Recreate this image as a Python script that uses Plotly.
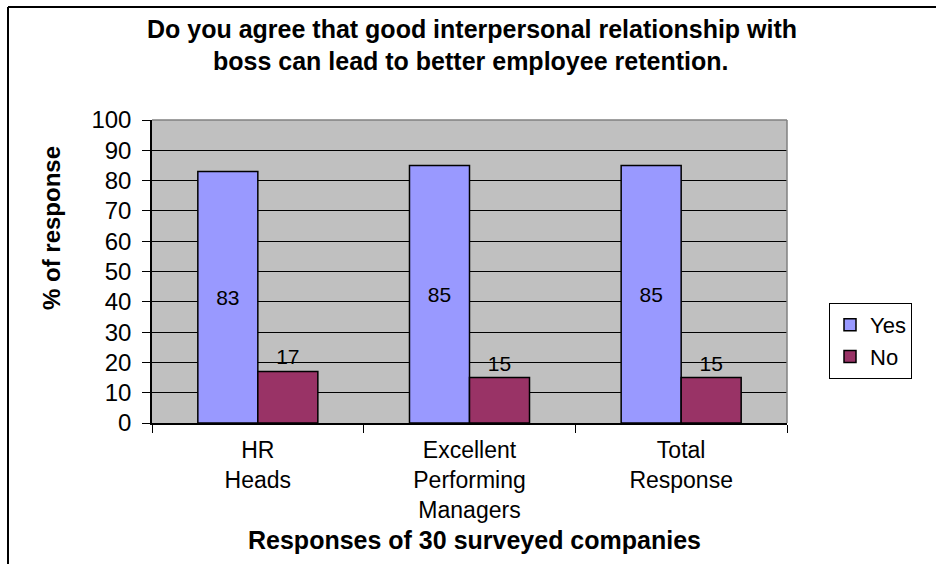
import plotly.graph_objects as go

# Survey results: share of respondents (%) per group
categories = ["HR<br>Heads", "Excellent<br>Performing<br>Managers", "Total<br>Response"]
yes_values = [83, 85, 85]
no_values = [17, 15, 15]
y_ticks = [0, 10, 20, 30, 40, 50, 60, 70, 80, 90, 100]

FONT = "Liberation Sans, Arial, sans-serif"
W, H = 936, 564
ML, MR, MT, MB = 152, 149, 120, 141
PW, PH = W - ML - MR, H - MT - MB


def px_x(x):
    return (x - ML) / PW


def px_y(y):
    return (H - MB - y) / PH


fig = go.Figure()
fig.add_trace(go.Bar(
    name="Yes", x=categories, y=yes_values,
    marker=dict(color="#9999FF", line=dict(color="black", width=1.5)),
    text=yes_values, textposition="inside", insidetextanchor="middle",
    textfont=dict(family=FONT, size=21, color="black"),
    cliponaxis=False,
))
fig.add_trace(go.Bar(
    name="No", x=categories, y=no_values,
    marker=dict(color="#993366", line=dict(color="black", width=1.5)),
    text=no_values, textposition="outside",
    textfont=dict(family=FONT, size=21, color="black"),
    cliponaxis=False,
))

fig.update_layout(
    width=W, height=H,
    margin=dict(l=ML, r=MR, t=MT, b=MB),
    paper_bgcolor="white",
    plot_bgcolor="#C0C0C0",
    barmode="group", bargap=0.433, bargroupgap=0,
    font=dict(family=FONT, color="black"),
    showlegend=True,
    legend=dict(
        x=px_x(829), y=px_y(303), xanchor="left", yanchor="top",
        bordercolor="black", borderwidth=1, bgcolor="white",
        font=dict(family=FONT, size=22, color="black"),
        itemwidth=30, tracegroupgap=0,
    ),
    uniformtext=dict(mode=False),
)

fig.update_xaxes(
    type="category", tickson="boundaries",
    ticks="outside", ticklen=8, tickcolor="black", tickwidth=1,
    showline=True, linecolor="black", linewidth=1.5, mirror=False,
    showgrid=False, ticklabelstandoff=6,
    tickfont=dict(family=FONT, size=23, color="black"),
)
fig.update_yaxes(
    range=[0, 100], tickvals=y_ticks, ticktext=[str(v) for v in y_ticks],
    ticks="outside", ticklen=8, tickcolor="black", tickwidth=1,
    showline=True, linecolor="black", linewidth=1.5,
    showgrid=True, gridcolor="black", gridwidth=1,
    ticklabelstandoff=6,
    tickfont=dict(family=FONT, size=24, color="black"),
    zeroline=False,
)

# Title, axis titles
fig.add_annotation(
    text="<b>Do you agree that good interpersonal relationship with</b>",
    xref="paper", yref="paper", x=px_x(472), y=px_y(29),
    xanchor="center", yanchor="middle", showarrow=False,
    font=dict(family=FONT, size=25, color="black"),
)
fig.add_annotation(
    text="<b>boss can lead to better employee retention.</b>",
    xref="paper", yref="paper", x=px_x(470), y=px_y(61),
    xanchor="center", yanchor="middle", showarrow=False,
    font=dict(family=FONT, size=25, color="black"),
)
fig.add_annotation(
    text="<b>Responses of 30 surveyed companies</b>",
    xref="paper", yref="paper", x=px_x(474), y=px_y(540),
    xanchor="center", yanchor="middle", showarrow=False,
    font=dict(family=FONT, size=25, color="black"),
)
fig.add_annotation(
    text="<b>% of response</b>",
    xref="paper", yref="paper", x=px_x(51), y=px_y(228),
    xanchor="center", yanchor="middle", showarrow=False, textangle=-90,
    font=dict(family=FONT, size=24, color="black"),
)

# Plot-area frame (top and right edges) and the outer frame lines
fig.add_shape(type="line", xref="paper", yref="paper", x0=0, x1=1, y0=1, y1=1,
              line=dict(color="#808080", width=1.5))
fig.add_shape(type="line", xref="paper", yref="paper", x0=1, x1=1, y0=0, y1=1,
              line=dict(color="#808080", width=1.5))
fig.add_shape(type="line", xref="paper", yref="paper",
              x0=px_x(8), x1=px_x(936), y0=px_y(7), y1=px_y(7),
              line=dict(color="black", width=2))
fig.add_shape(type="line", xref="paper", yref="paper",
              x0=px_x(8), x1=px_x(8), y0=px_y(7), y1=px_y(564),
              line=dict(color="black", width=2))

fig.write_html("out.html")
